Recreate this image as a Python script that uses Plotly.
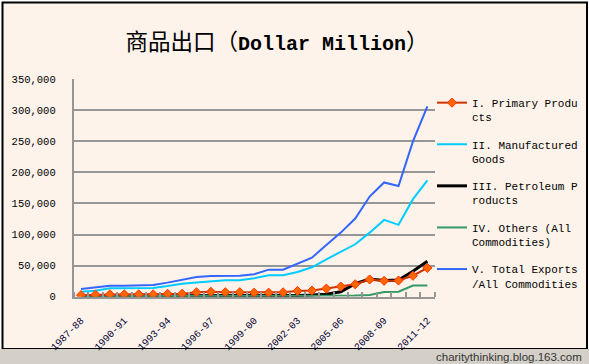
import plotly.graph_objects as go

years = ["1987-88", "1988-89", "1989-90", "1990-91", "1991-92", "1992-93", "1993-94",
         "1994-95", "1995-96", "1996-97", "1997-98", "1998-99", "1999-00", "2000-01",
         "2001-02", "2002-03", "2003-04", "2004-05", "2005-06", "2006-07", "2007-08",
         "2008-09", "2009-10", "2010-11", "2011-12"]

primary = [2500, 3300, 3800, 3800, 3800, 3800, 4600, 4600, 7000, 7800, 7200, 7200, 6500,
           6500, 7000, 9200, 9800, 13000, 16300, 20000, 27700, 25500, 26000, 33700, 46200]
manufactured = [8000, 9700, 13400, 13400, 13400, 14000, 17200, 21000, 23000, 24700, 26300,
                26300, 29500, 34400, 34400, 39700, 47300, 60100, 72500, 84300, 103000,
                123500, 115500, 156800, 186900]
petroleum = [1200, 1200, 1200, 1200, 1200, 1200, 1200, 1200, 1200, 1200, 1200, 1200, 800,
             1000, 1200, 2000, 2700, 4000, 8000, 21000, 28300, 26000, 27000, 41000, 57000]
others = [800, 800, 800, 800, 800, 800, 800, 800, 800, 800, 800, 1200, 1200, 1200, 1200,
          1200, 1200, 2000, 2000, 2000, 2700, 7500, 8000, 18000, 18000]
total = [12400, 14500, 17700, 17700, 17700, 18800, 22600, 27400, 31700, 33300, 33800, 33800,
         36000, 43500, 43500, 53000, 62800, 83000, 103000, 125700, 161000, 183700, 178000,
         249700, 306000]

names = ["I. Primary Produ<br>cts", "II. Manufactured<br>Goods", "III. Petroleum P<br>roducts",
         "IV. Others (All<br>Commodities)", "V. Total Exports<br>/All Commodities"]
label_every = 3
y_ticks = [0, 50000, 100000, 150000, 200000, 250000, 300000, 350000]

W, H = 589, 364
idx = list(range(len(years)))
MONO = "Liberation Mono, Noto Sans CJK SC, monospace"

fig = go.Figure()
fig.add_trace(go.Scatter(x=idx, y=manufactured, name=names[1], mode="lines",
                         line=dict(color="#00CCFF", width=2), legendgroup="b", legendrank=2))
fig.add_trace(go.Scatter(x=idx, y=petroleum, name=names[2], mode="lines",
                         line=dict(color="#000000", width=3), legendgroup="c", legendrank=3))
fig.add_trace(go.Scatter(x=idx, y=others, name=names[3], mode="lines",
                         line=dict(color="#339966", width=2), legendgroup="d", legendrank=4))
fig.add_trace(go.Scatter(x=idx, y=total, name=names[4], mode="lines",
                         line=dict(color="#3366FF", width=2), legendgroup="e", legendrank=5))
fig.add_trace(go.Scatter(x=idx, y=primary, name=names[0], mode="lines+markers",
                         line=dict(color="#CC3300", width=2),
                         marker=dict(symbol="diamond", size=7, color="#FF6600",
                                     line=dict(color="#FF3300", width=1)),
                         legendgroup="a", legendrank=1))

x0, x1 = 73.8 / W, 434.6 / W
y0, y1 = (H - 296.7) / H, (H - 79) / H

fig.update_layout(
    width=W, height=H,
    margin=dict(l=0, r=0, t=0, b=0, autoexpand=False),
    paper_bgcolor="white",
    plot_bgcolor="rgba(0,0,0,0)",
    font=dict(family=MONO, size=11, color="black"),
    title=dict(
        text="<span style='font-family:Noto Sans CJK SC;font-size:22.5px'>商品出口（</span>"
             "<b><span style='font-family:Liberation Mono;font-size:20px'>Dollar Million</span></b>"
             "<span style='font-family:Noto Sans CJK SC;font-size:22.5px'>）</span>",
        x=277 / W, xanchor="center", y=(H - 42) / H, yanchor="middle",
        font=dict(size=22, color="black"), automargin=False),
    xaxis=dict(domain=[x0, x1], range=[-0.5, len(years) - 0.5], automargin=False,
               tickmode="array", tickvals=idx[::label_every], ticktext=years[::label_every],
               tickangle=-45, ticks="", showgrid=False, zeroline=False,
               showline=True, linecolor="#969696", linewidth=2,
               tickfont=dict(family=MONO, size=10, color="#000033"),
               ticklabelstandoff=12,
               minor=dict(tick0=-0.5, dtick=1, ticks="inside", ticklen=5,
                          tickcolor="#969696", tickwidth=2, showgrid=False)),
    yaxis=dict(domain=[y0, y1], range=[0, 350000], automargin=False,
               tickmode="array", tickvals=y_ticks,
               tickformat=",d", ticks="inside", ticklen=5, tickcolor="#969696", tickwidth=2,
               showgrid=True, gridcolor="#969696", gridwidth=1.5, zeroline=False,
               showline=True, linecolor="#969696", linewidth=2,
               tickfont=dict(family=MONO, size=10.5, color="black"),
               ticklabelstandoff=14),
    legend=dict(x=432 / W, xanchor="left", y=(H - 89) / H, yanchor="top",
                font=dict(family=MONO, size=11, color="black"),
                bgcolor="rgba(0,0,0,0)", tracegroupgap=10, itemwidth=30,
                valign="top", traceorder="grouped"),
    showlegend=True,
    shapes=[
        dict(type="rect", xref="paper", yref="paper", x0=2.5 / W, x1=587 / W,
             y0=15 / H, y1=(H - 2.5) / H, fillcolor="#FDF3EA",
             line=dict(color="black", width=2), layer="below"),
        dict(type="rect", xref="paper", yref="paper", x0=0, x1=1,
             y0=0, y1=15 / H, fillcolor="#D4D0C8", line=dict(width=0), layer="below"),
    ],
    annotations=[
        dict(text="charitythinking.blog.163.com", xref="paper", yref="paper",
             x=584 / W, xanchor="right", y=7 / H, yanchor="middle", showarrow=False,
             font=dict(family="Liberation Sans, Arial", size=11.5, color="#333333")),
    ],
)

fig.write_html("out.html", config={"displayModeBar": False},
               post_script="document.body.style.margin='0px';"
                           "document.body.style.overflow='hidden';")
